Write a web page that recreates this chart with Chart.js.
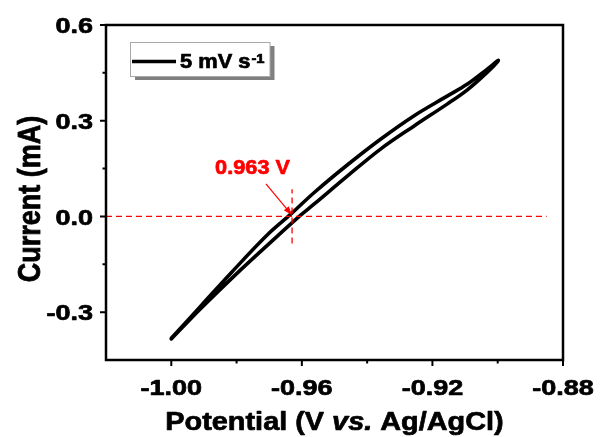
<!DOCTYPE html>
<html>
<head>
<meta charset="utf-8">
<script src="https://cdn.jsdelivr.net/npm/chart.js@4/dist/chart.umd.min.js"></script>
<style>
  html, body { margin: 0; padding: 0; background: #fff; }
  canvas { display: block; }
</style>
</head>
<body>
<canvas id="cv" width="601" height="437"></canvas>
<script>
// CV loop at 5 mV/s: scan up from -1.00 V, then back down
const scanUpPotential = [-1.000, -0.9908, -0.9817, -0.9704, -0.9634, -0.9562, -0.9460, -0.9359, -0.9257, -0.9155, -0.9094, -0.9033, -0.8998];
const scanUpCurrent   = [-0.382, -0.279, -0.177, -0.056, 0.007, 0.075, 0.162, 0.242, 0.315, 0.377, 0.414, 0.461, 0.489];
const scanDownPotential = [-0.9035, -0.9094, -0.9155, -0.9257, -0.9359, -0.9460, -0.9562, -0.9608, -0.9701, -0.9786, -0.9908, -1.000];
const scanDownCurrent   = [0.449, 0.396, 0.352, 0.283, 0.211, 0.127, 0.039, 0.000, -0.086, -0.166, -0.287, -0.384];

const potentialTicks = [-1.00, -0.96, -0.92, -0.88];
const potentialMinorTicks = [-0.98, -0.94, -0.90];
const currentTicks = [0.6, 0.3, 0.0, -0.3];
const currentMinorTicks = [0.45, 0.15, -0.15];

const crossPotential = -0.963;   // zero-current crossing
const scanRateLabel = '5 mV s';

const FONT = '"Liberation Sans", Arial, sans-serif';

const loop = [];
scanUpPotential.forEach((v, i) => loop.push({ x: v, y: scanUpCurrent[i] }));
scanDownPotential.forEach((v, i) => loop.push({ x: v, y: scanDownCurrent[i] }));

// heavy text, stretched horizontally by sx
function drawText(ctx, str, x, y, font, sx, align) {
  ctx.save();
  ctx.font = font;
  const w = ctx.measureText(str).width * sx;
  const left = align === 'center' ? x - w / 2 : align === 'right' ? x - w : x;
  ctx.translate(left, y);
  ctx.scale(sx, 1);
  ctx.textAlign = 'left';
  ctx.textBaseline = 'alphabetic';
  ctx.strokeStyle = ctx.fillStyle;
  ctx.lineWidth = 0.7;
  ctx.lineJoin = 'round';
  ctx.fillText(str, 0, 0);
  ctx.strokeText(str, 0, 0);
  ctx.restore();
  return w;
}

const axesPlugin = {
  id: 'cvAxes',
  afterDatasetsDraw(chart) {
    const { ctx, chartArea: a, scales: { x, y } } = chart;
    ctx.save();

    // frame
    ctx.strokeStyle = '#000';
    ctx.lineWidth = 2.5;
    ctx.strokeRect(a.left, a.top, a.right - a.left, a.bottom - a.top);

    // tick marks, outward
    ctx.lineWidth = 2;
    ctx.beginPath();
    potentialTicks.forEach(v => { const p = x.getPixelForValue(v); ctx.moveTo(p, a.bottom); ctx.lineTo(p, a.bottom + 6); });
    potentialMinorTicks.forEach(v => { const p = x.getPixelForValue(v); ctx.moveTo(p, a.bottom); ctx.lineTo(p, a.bottom + 3.5); });
    currentTicks.forEach(v => { const p = y.getPixelForValue(v); ctx.moveTo(a.left, p); ctx.lineTo(a.left - 6, p); });
    currentMinorTicks.forEach(v => { const p = y.getPixelForValue(v); ctx.moveTo(a.left, p); ctx.lineTo(a.left - 3.5, p); });
    ctx.stroke();

    // tick labels
    ctx.fillStyle = '#000';
    const tickFont = 'bold 22.5px ' + FONT;
    potentialTicks.forEach(v => drawText(ctx, v.toFixed(2), x.getPixelForValue(v), a.bottom + 34.5, tickFont, 1.2, 'center'));
    currentTicks.forEach(v => drawText(ctx, v.toFixed(1), a.left - 13, y.getPixelForValue(v) + 8.2, tickFont, 1.2, 'right'));

    // x title with italic "vs."
    const parts = [
      { t: 'Potential (V ', f: 'bold 26px ' + FONT },
      { t: 'vs.', f: 'italic bold 26px ' + FONT },
      { t: ' Ag/AgCl)', f: 'bold 26px ' + FONT }
    ];
    const sx = 1.11;
    let total = 0;
    parts.forEach(p => { ctx.font = p.f; total += ctx.measureText(p.t).width * sx; });
    let cx = (a.left + a.right) / 2 - total / 2;
    parts.forEach(p => { cx += drawText(ctx, p.t, cx, 430, p.f, sx, 'left'); });

    // y title
    ctx.save();
    ctx.translate(40, 199);
    ctx.rotate(-Math.PI / 2);
    ctx.scale(1, 1.15);
    ctx.font = 'bold 27px ' + FONT;
    ctx.textAlign = 'center';
    ctx.textBaseline = 'alphabetic';
    ctx.strokeStyle = '#000';
    ctx.lineWidth = 0.7;
    ctx.fillText('Current (mA)', 0, 0);
    ctx.strokeText('Current (mA)', 0, 0);
    ctx.restore();

    // legend box with drop shadow
    ctx.fillStyle = '#808080';
    ctx.fillRect(135, 46, 139.5, 34);
    ctx.fillStyle = '#fff';
    ctx.fillRect(130.5, 42.5, 139.5, 34);
    ctx.strokeStyle = '#a8a8a8';
    ctx.lineWidth = 1;
    ctx.strokeRect(130.5, 42.5, 139.5, 34);
    ctx.strokeStyle = '#000';
    ctx.lineWidth = 3.5;
    ctx.beginPath();
    ctx.moveTo(132, 61.5);
    ctx.lineTo(176, 61.5);
    ctx.stroke();
    ctx.fillStyle = '#000';
    const lw = drawText(ctx, scanRateLabel, 180, 68.3, 'bold 19.5px ' + FONT, 1.12, 'left');
    drawText(ctx, '-1', 180 + lw + 1, 63, 'bold 13.5px ' + FONT, 1.1, 'left');

    // crossing annotation: label and arrow
    ctx.fillStyle = '#f00';
    ctx.strokeStyle = '#f00';
    const lx = x.getPixelForValue(-0.9751), ly = y.getPixelForValue(0.133);
    drawText(ctx, Math.abs(crossPotential).toFixed(3) + ' V', lx, ly, 'bold 20.5px ' + FONT, 1.06, 'center');
    const x0 = x.getPixelForValue(-0.9710), y0 = y.getPixelForValue(0.102);
    const x1 = x.getPixelForValue(crossPotential), y1 = y.getPixelForValue(0.004);
    const ang = Math.atan2(y1 - y0, x1 - x0);
    ctx.strokeStyle = '#f00';
    ctx.lineWidth = 1.2;
    ctx.beginPath();
    ctx.moveTo(x0, y0);
    ctx.lineTo(x1 - 6 * Math.cos(ang), y1 - 6 * Math.sin(ang));
    ctx.stroke();
    ctx.beginPath();
    ctx.moveTo(x1, y1);
    ctx.lineTo(x1 - 9 * Math.cos(ang) + 3.2 * Math.sin(ang), y1 - 9 * Math.sin(ang) - 3.2 * Math.cos(ang));
    ctx.lineTo(x1 - 9 * Math.cos(ang) - 3.2 * Math.sin(ang), y1 - 9 * Math.sin(ang) + 3.2 * Math.cos(ang));
    ctx.closePath();
    ctx.fill();

    ctx.restore();
  }
};

new Chart(document.getElementById('cv').getContext('2d'), {
  type: 'scatter',
  data: {
    datasets: [
      {
        data: [{ x: -1.02, y: 0 }, { x: -0.885, y: 0 }],
        showLine: true,
        borderColor: '#ff0000',
        borderWidth: 1.3,
        borderDash: [6, 4],
        pointRadius: 0,
        order: 0
      },
      {
        data: [{ x: crossPotential, y: -0.085 }, { x: crossPotential, y: 0.085 }],
        showLine: true,
        borderColor: '#ff0000',
        borderWidth: 1.3,
        borderDash: [6, 4],
        pointRadius: 0,
        order: 0
      },
      {
        label: '5 mV/s',
        data: loop,
        showLine: true,
        borderColor: '#000',
        borderWidth: 3.6,
        borderCapStyle: 'round',
        borderJoinStyle: 'round',
        tension: 0.35,
        pointRadius: 0,
        order: 1
      }
    ]
  },
  options: {
    responsive: false,
    animation: false,
    devicePixelRatio: 1,
    layout: { padding: { left: 106, top: 25, right: 38, bottom: 77 } },
    scales: {
      x: { type: 'linear', min: -1.02, max: -0.88, display: false },
      y: { type: 'linear', min: -0.45, max: 0.6, display: false }
    },
    plugins: {
      legend: { display: false },
      tooltip: { enabled: false }
    }
  },
  plugins: [axesPlugin]
});
</script>
</body>
</html>
